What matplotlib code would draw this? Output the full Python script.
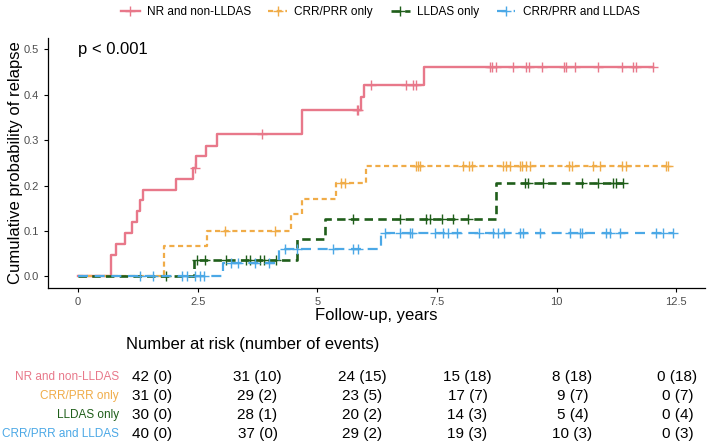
import numpy as np
import matplotlib
matplotlib.use("Agg")
import matplotlib.pyplot as plt
from matplotlib.lines import Line2D

plt.rcParams['font.family'] = ['Liberation Sans', 'DejaVu Sans']

# group names and colours
groups = ['NR and non-LLDAS', 'CRR/PRR only', 'LLDAS only', 'CRR/PRR and LLDAS']
colors = ['#E8788A', '#F0AC48', '#1F5E1A', '#4BA8E6']

# step curves: event times and cumulative probability after each step, plus last follow-up
nr_times = [0, 0.70, 0.79, 0.98, 1.12, 1.24, 1.29, 1.35, 2.05, 2.41, 2.46, 2.67, 2.90, 4.69, 5.92, 5.97, 7.23]
nr_probs = [0, 0.048, 0.071, 0.095, 0.119, 0.143, 0.167, 0.190, 0.215, 0.239, 0.264, 0.288, 0.314, 0.367, 0.395, 0.421, 0.460]
nr_end = 12.01
nr_censor = [2.44, 3.84, 5.82, 5.86, 6.13, 6.85, 7.00, 7.06, 8.60, 8.66, 8.74, 9.09, 9.37, 9.42, 9.70,
             10.15, 10.19, 10.38, 10.86, 11.37, 11.60, 11.66, 12.01]

crr_times = [0, 1.80, 2.69, 4.46, 4.67, 5.40, 6.01]
crr_probs = [0, 0.067, 0.099, 0.137, 0.171, 0.206, 0.244]
crr_end = 12.32
crr_censor = [3.08, 4.11, 5.50, 5.57, 7.06, 7.10, 7.14, 8.04, 8.17, 8.24, 8.89, 8.95, 9.02, 9.23, 9.28,
              9.37, 9.45, 10.26, 10.33, 10.76, 10.90, 11.37, 11.45, 12.29, 12.32]

lldas_times = [0, 2.43, 4.58, 5.16, 8.73]
lldas_probs = [0, 0.036, 0.083, 0.127, 0.206]
lldas_end = 11.38
lldas_censor = [1.84, 2.48, 2.65, 3.10, 3.52, 3.59, 3.80, 3.88, 4.13, 5.75, 6.72, 7.28, 7.35, 7.61, 7.84,
                8.15, 9.33, 9.40, 9.71, 10.52, 10.86, 11.18, 11.25, 11.38]

both_times = [0, 3.03, 4.20, 6.34]
both_probs = [0, 0.030, 0.061, 0.096]
both_end = 12.43
both_censor = [1.29, 1.57, 2.17, 2.27, 2.44, 2.55, 2.63, 3.20, 3.35, 3.70, 4.00, 4.32, 4.58, 5.33, 5.75,
               5.85, 6.41, 6.72, 6.93, 6.97, 7.45, 7.63, 7.73, 7.91, 8.38, 8.67, 8.77, 8.91, 9.23, 9.30,
               9.65, 10.27, 10.48, 10.52, 11.04, 11.11, 11.32, 12.08, 12.22, 12.43]

# number at risk table
risk_times = [0, 2.5, 5, 7.5, 10, 12.5]
risk_table = [
    ['42 (0)', '31 (10)', '24 (15)', '15 (18)', '8 (18)', '0 (18)'],
    ['31 (0)', '29 (2)', '23 (5)', '17 (7)', '9 (7)', '0 (7)'],
    ['30 (0)', '28 (1)', '20 (2)', '14 (3)', '5 (4)', '0 (4)'],
    ['40 (0)', '37 (0)', '29 (2)', '19 (3)', '10 (3)', '0 (3)'],
]

curves = [
    (nr_times, nr_probs, nr_end, nr_censor),
    (crr_times, crr_probs, crr_end, crr_censor),
    (lldas_times, lldas_probs, lldas_end, lldas_censor),
    (both_times, both_probs, both_end, both_censor),
]
styles = [
    dict(linestyle='-', lw=1.7),
    dict(linestyle=(0, (2.3, 1.6)), lw=1.6),
    dict(linestyle=(0, (3.2, 2.0)), lw=1.9),
    dict(linestyle=(0, (4.5, 3.0)), lw=1.6),
]

W, H = 709, 448
fig = plt.figure(figsize=(W / 100, H / 100), dpi=100)

ax = fig.add_axes([48.3 / W, 1 - 287.7 / H, (705 - 48.3) / W, (287.7 - 37.9) / H])
for (t, p, end, cens), col, st in zip(curves, colors, styles):
    tt = list(t) + [end]
    pp = list(p) + [p[-1]]
    ax.step(tt, pp, where='post', color=col, **st)
    idx = np.searchsorted(t, cens, side='right') - 1
    ax.plot(cens, np.array(p)[idx], linestyle='none', marker='+', color=col,
            markersize=7, markeredgewidth=1.0)

ax.set_xlim(-0.62, 13.1)
ax.set_ylim(-0.025, 0.525)
ax.set_xticks(risk_times)
ax.set_xticklabels(['0', '2.5', '5', '7.5', '10', '12.5'])
ax.set_yticks([0, 0.1, 0.2, 0.3, 0.4, 0.5])
ax.set_yticklabels(['0.0', '0.1', '0.2', '0.3', '0.4', '0.5'])
ax.tick_params(colors='black', labelcolor='#4D4D4D', labelsize=8, length=3, width=0.8)
for s in ['top', 'right']:
    ax.spines[s].set_visible(False)
for s in ['left', 'bottom']:
    ax.spines[s].set_linewidth(0.9)
ax.set_xlabel('Follow-up, years', fontsize=12, labelpad=1)
ax.set_ylabel('Cumulative probability of relapse', fontsize=12, labelpad=1)
ax.text(0, 0.5, 'p < 0.001', fontsize=12, va='center', ha='left')

handles = [Line2D([], [], color=c, marker='+', markersize=7, **st) for c, st in zip(colors, styles)]
fig.legend(handles, groups, loc='center', bbox_to_anchor=(380 / W, 1 - 12 / H), ncol=4,
           frameon=False, fontsize=8.5, handlelength=1.6, columnspacing=1.5, handletextpad=0.6)

# risk table
ax2 = fig.add_axes([126.5 / W, 0, (702.7 - 126.5) / W, 1])
ax2.set_xlim(-0.62, 13.1)
ax2.set_ylim(H, 0)
ax2.axis('off')
ax2.text(-0.62, 345, 'Number at risk (number of events)', fontsize=12, va='center', ha='left')
row_y = [377, 396, 415, 434]
for g, col, ry, row in zip(groups, colors, row_y, risk_table):
    ax2.text(-0.80, ry, g, color=col, fontsize=8.5, ha='right', va='center')
    for x, val in zip(risk_times, row):
        ax2.text(x, ry, val, fontsize=11, ha='center', va='center')

fig.savefig('out.png', dpi=100)
